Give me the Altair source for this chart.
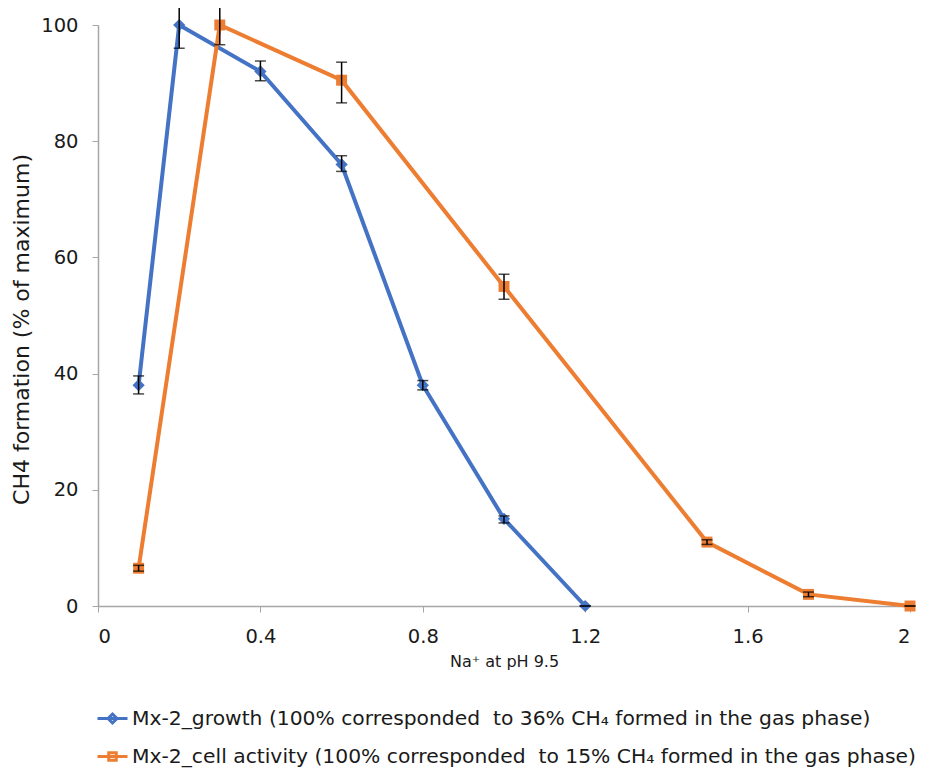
import altair as alt
import pandas as pd

S1 = "Mx-2_growth (100% corresponded\u00a0 to 36% CH\u2084 formed in the gas phase)"
S2 = "Mx-2_cell activity (100% corresponded\u00a0 to 15% CH\u2084 formed in the gas phase)"

growth_x = [0.1, 0.2, 0.4, 0.6, 0.8, 1.0, 1.2]
growth_y = [38, 100, 92, 76, 38, 15, 0]
growth_lo = [36.5, 96, 90.4, 74.8, 37.2, 14.3, 0]
growth_hi = [39.6, 103.8, 93.8, 77.5, 38.8, 15.5, 0]

act_x = [0.1, 0.3, 0.6, 1.0, 1.5, 1.75, 2.0]
act_y = [6.5, 100, 90.5, 55, 11, 2, 0]
act_lo = [6.0, 96.6, 86.6, 52.8, 10.6, 1.6, 0]
act_hi = [7.0, 103.8, 93.6, 57.1, 11.4, 2.4, 0]

x_ticks = [0, 0.4, 0.8, 1.2, 1.6, 2.0]
y_ticks = [0, 20, 40, 60, 80, 100]

BLUE = "#4472C4"
ORANGE = "#ED7D31"
FONT = "DejaVu Sans"
TEXT = "#1a1a1a"

rows = []
for s, xs, ys, lo, hi in [(S1, growth_x, growth_y, growth_lo, growth_hi),
                          (S2, act_x, act_y, act_lo, act_hi)]:
    for x, y, l, h in zip(xs, ys, lo, hi):
        rows.append({"series": s, "x": x, "y": y, "lo": l, "hi": h})
df = pd.DataFrame(rows)

color_scale = alt.Scale(domain=[S1, S2], range=[BLUE, ORANGE])

xenc = alt.X("x:Q", scale=alt.Scale(domain=[0, 2], nice=False),
             axis=alt.Axis(values=x_ticks, format=".1~f", title="Na\u207a at pH 9.5",
                           grid=False, tickSize=6, labelPadding=15, titlePadding=8,
                           labelFontSize=19.5, titleFontSize=16))
yenc = alt.Y("y:Q", scale=alt.Scale(domain=[0, 100], nice=False),
             axis=alt.Axis(values=y_ticks, title="CH4 formation (% of maximum)",
                           grid=False, tickSize=6, labelPadding=14, titlePadding=7,
                           titleY=304, labelFontSize=19.5, titleFontSize=22))

base = alt.Chart(df)
blue_df = base.transform_filter(alt.datum.series == S1)
orange_df = base.transform_filter(alt.datum.series == S2)

line_blue = blue_df.mark_line(strokeWidth=4, color=BLUE, clip=False).encode(x=xenc, y=yenc)
line_orange = orange_df.mark_line(strokeWidth=4, color=ORANGE, clip=False).encode(x="x:Q", y="y:Q")

diamonds = blue_df.mark_point(shape="diamond", filled=True, size=150, opacity=1,
                              color=BLUE, clip=False).encode(x="x:Q", y="y:Q")
squares = orange_df.mark_point(shape="square", filled=True, size=120, opacity=1,
                               color=ORANGE, clip=False).encode(x="x:Q", y="y:Q")

err_rule = base.mark_rule(color="black", strokeWidth=1.5, clip=False).encode(
    x="x:Q", y="lo:Q", y2="hi:Q")
err_lo = base.mark_tick(color="black", orient="horizontal", size=11, thickness=1.5,
                        clip=False).encode(x="x:Q", y="lo:Q")
err_hi = base.mark_tick(color="black", orient="horizontal", size=11, thickness=1.5,
                        clip=False).encode(x="x:Q", y="hi:Q")

DIAMOND_PATH = "M-1,0L1,0M0,-0.3L0.3,0L0,0.3L-0.3,0Z"
SQUARE_PATH = "M-1,0L1,0M-0.25,-0.25L0.25,-0.25L0.25,0.25L-0.25,0.25Z"

legend_layer = base.mark_point(filled=True, opacity=0, clip=False).encode(
    x="x:Q", y="y:Q",
    color=alt.Color("series:N", scale=color_scale, title=None,
                    legend=alt.Legend(orient="none", legendX=-2, legendY=677,
                                      direction="vertical", symbolSize=900,
                                      symbolStrokeWidth=3, symbolOpacity=1,
                                      labelFontSize=20.3, labelFont=FONT,
                                      labelColor=TEXT, labelLimit=900,
                                      labelOffset=3, rowPadding=11, padding=0)),
    stroke=alt.Stroke("series:N", scale=color_scale, title=None),
    shape=alt.Shape("series:N", scale=alt.Scale(domain=[S1, S2],
                                                range=[DIAMOND_PATH, SQUARE_PATH]),
                    title=None),
)

chart = alt.layer(line_blue, line_orange, diamonds, squares, err_rule, err_lo, err_hi,
                  legend_layer).properties(
    width=812, height=581,
    padding={"left": 90, "top": 17, "right": 17, "bottom": 166},
    autosize=alt.AutoSizeParams(type="none"),
    background="white",
).configure_view(stroke=None).configure_axis(
    domainColor="#A6A6A6", tickColor="#A6A6A6", domainWidth=1.5,
    labelColor=TEXT, titleColor=TEXT,
    labelFont=FONT, titleFont=FONT, titleFontWeight="normal",
)

chart.save("out.html", embed_options={"renderer": "svg", "actions": False})
